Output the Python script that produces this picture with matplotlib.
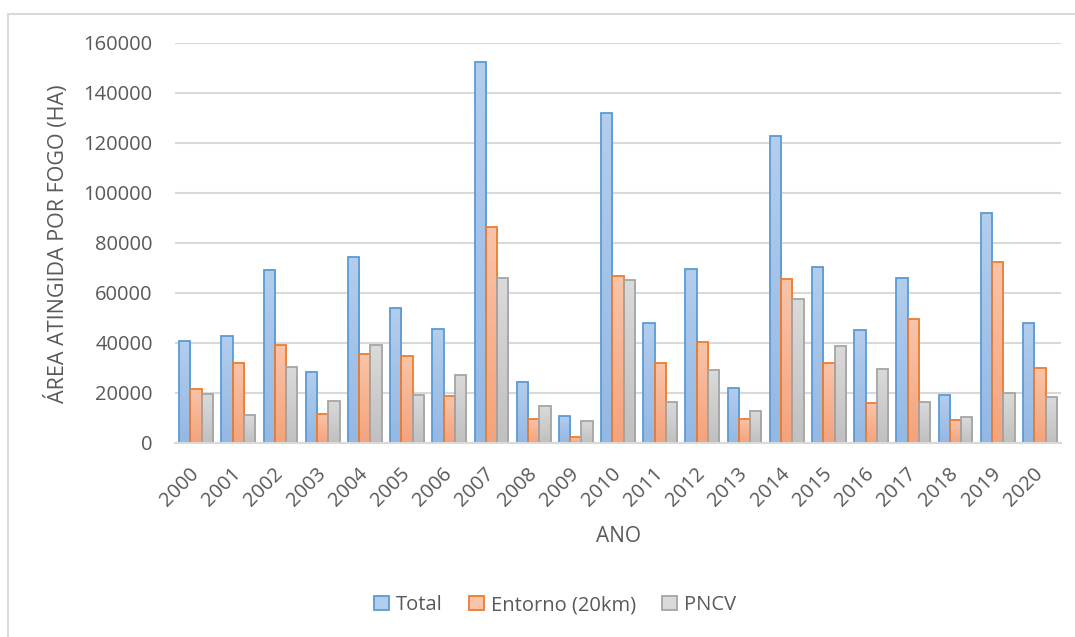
import matplotlib.pyplot as plt
import numpy as np
from matplotlib.colors import LinearSegmentedColormap
from matplotlib.patches import Patch, Rectangle

plt.rcParams['font.family'] = ['Open Sans', 'DejaVu Sans']

# dados (ha)
ANOS = [str(a) for a in range(2000, 2021)]
TOTAL = [40900, 43000, 69300, 28500, 74400, 54000, 45700, 152400, 24300, 10900, 132100,
         48100, 69500, 22100, 122900, 70400, 45300, 65900, 19100, 92100, 48100]
ENTORNO = [21700, 32100, 39200, 11700, 35600, 34900, 18800, 86500, 9700, 2300, 66900,
           32100, 40500, 9700, 65500, 32000, 16000, 49500, 9100, 72400, 30100]
PNCV = [19500, 11200, 30300, 16900, 39100, 19300, 27200, 66000, 14800, 8900, 65300,
        16500, 29200, 12800, 57600, 38700, 29600, 16500, 10400, 19900, 18300]
YTICKS = [0, 20000, 40000, 60000, 80000, 100000, 120000, 140000, 160000]

# nome, valores, borda, cor de baixo, cor de cima
SERIES = [
    ("Total", TOTAL, "#5B9BD5", "#94B8E4", "#B3CDED"),
    ("Entorno (20km)", ENTORNO, "#ED7D31", "#F4A37B", "#F9C4A9"),
    ("PNCV", PNCV, "#A5A5A5", "#C0C0C0", "#DADADA"),
]

TXT = "#595959"
GRID = "#D9D9D9"
W, H = 1075, 637

fig = plt.figure(figsize=(W / 100, H / 100), dpi=100)
fig.patches.append(Rectangle((8 / W, -0.05), 1.1, 1 - 14 / H + 0.05, transform=fig.transFigure,
                             fill=False, edgecolor=GRID, lw=1.5, zorder=0))

ax = fig.add_axes([175 / W, 1 - 443 / H, 886 / W, 400 / H])

x = np.arange(len(ANOS))
bw = 0.267
grad = np.linspace(0, 1, 64).reshape(-1, 1)

for i, (nome, vals, borda, c0, c1) in enumerate(SERIES):
    cmap = LinearSegmentedColormap.from_list(nome, [c0, c1])
    pos = x + (i - 1) * bw
    bars = ax.bar(pos, vals, width=bw, facecolor='none', edgecolor=borda, lw=1.3, zorder=3)
    for b in bars:
        x0, h = b.get_x(), b.get_height()
        im = ax.imshow(grad, cmap=cmap, origin='lower', aspect='auto',
                       extent=[x0, x0 + b.get_width(), 0, h], zorder=2)
        im.set_clip_path(b)

ax.set_xlim(-0.5, len(ANOS) - 0.5)
ax.set_ylim(0, 160000)
ax.set_aspect('auto')

ax.set_yticks(YTICKS)
ax.set_yticklabels([str(v) for v in YTICKS])
ax.set_xticks(x)
ax.set_xticklabels(ANOS)
ax.tick_params(axis='y', length=0, pad=16, labelsize=14.5, labelcolor=TXT)
ax.tick_params(axis='x', length=0, pad=20, labelsize=14.5, labelcolor=TXT)
for lb in ax.get_xticklabels():
    lb.set_rotation(45)
    lb.set_ha('right')
    lb.set_va('center')
    lb.set_rotation_mode('anchor')

ax.yaxis.grid(True, color=GRID, lw=1.5, zorder=0)
ax.set_axisbelow(True)
for s in ['top', 'right', 'left']:
    ax.spines[s].set_visible(False)
ax.spines['bottom'].set_color(GRID)
ax.spines['bottom'].set_linewidth(1.5)
ax.spines['bottom'].set_zorder(4)

fig.text(57 / W, 1 - 244 / H, "ÁREA ATINGIDA POR FOGO (HA)", rotation=90,
         ha='center', va='center', fontsize=15.5, color=TXT)
fig.text(618 / W, 1 - 537 / H, "ANO", ha='center', va='center', fontsize=15, color=TXT)

handles = [Patch(facecolor=c1, edgecolor=borda, lw=1.3, label=nome)
           for nome, vals, borda, c0, c1 in SERIES]
fig.legend(handles=handles, loc='center', bbox_to_anchor=(555 / W, 1 - 605 / H), ncol=3,
           frameon=False, fontsize=14.5, labelcolor=TXT, handlelength=0.75, handleheight=0.75,
           handletextpad=0.35, columnspacing=1.3, borderpad=0)

fig.savefig("out.png", dpi=100)
